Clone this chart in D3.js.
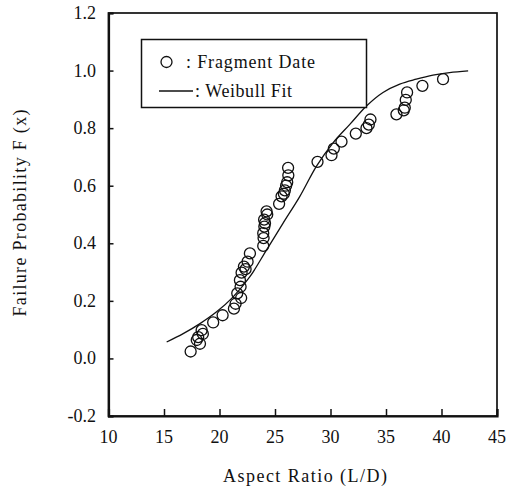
<!DOCTYPE html>
<html>
<head>
<meta charset="utf-8">
<script src="https://cdn.jsdelivr.net/npm/d3@7/dist/d3.min.js"></script>
<style>
  html, body { margin: 0; padding: 0; background: #fff; }
  svg { display: block; }
  text { font-family: "Liberation Serif", "DejaVu Serif", serif; fill: #111; }
</style>
</head>
<body>
<svg id="chart" width="517" height="489"></svg>
<script>
// Fragment data: aspect ratio (L/D) and failure probability F(x)
const fragmentX = [17.4, 18.24, 17.95, 18.08, 18.5, 18.39, 19.43, 20.28, 21.3, 21.45, 21.6, 21.95, 21.9, 21.84, 21.99, 22.2, 22.35, 22.53, 22.74,
  23.94, 23.97, 23.94, 24.04, 24.1, 24.02, 24.3, 24.24, 25.37, 25.59, 25.8, 25.89, 26.0, 26.1, 26.2, 26.18,
  28.83, 30.09, 30.3, 30.99, 32.28, 33.24, 33.45, 33.6, 35.94, 36.6, 36.69, 36.78, 36.9, 38.28, 40.14];
const fragmentY = [0.024, 0.051, 0.064, 0.074, 0.085, 0.098, 0.125, 0.15, 0.173, 0.19, 0.226, 0.21, 0.249, 0.272, 0.298, 0.319, 0.31, 0.336, 0.365,
  0.391, 0.418, 0.435, 0.458, 0.47, 0.482, 0.5, 0.511, 0.537, 0.563, 0.572, 0.584, 0.6, 0.612, 0.636, 0.662,
  0.683, 0.706, 0.729, 0.753, 0.781, 0.80, 0.812, 0.83, 0.848, 0.862, 0.871, 0.898, 0.924, 0.947, 0.97];

// Weibull fit curve
const fitX = [15.24, 16.73, 18.24, 19.74, 21.23, 22.74, 24.24, 25.73, 27.24, 28.74, 30.23, 31.74, 33.24, 34.73, 36.24, 37.73, 39.23, 40.73, 42.4];
const fitY = [0.057, 0.086, 0.121, 0.162, 0.214, 0.284, 0.377, 0.47, 0.563, 0.668, 0.749, 0.813, 0.877, 0.924, 0.953, 0.97, 0.984, 0.993, 0.999];

const xTicks = [10, 15, 20, 25, 30, 35, 40, 45];
const yTicks = [-0.2, 0.0, 0.2, 0.4, 0.6, 0.8, 1.0, 1.2];

const legendLabels = [": Fragment Date", ": Weibull Fit"];
const xTitle = "Aspect Ratio (L/D)";
const yTitle = "Failure Probability F (x)";

const svg = d3.select("#chart");
const pL = 108.5, pR = 497, pT = 13, pB = 416;

const x = d3.scaleLinear().domain([10, 45]).range([pL, pR]);
const y = d3.scaleLinear().domain([-0.2, 1.2]).range([pB, pT]);

// frame
svg.append("rect")
  .attr("x", pL).attr("y", pT)
  .attr("width", pR - pL).attr("height", pB - pT)
  .attr("fill", "none").attr("stroke", "#111").attr("stroke-width", 1.7);

// axes (inward ticks)
const xAxis = svg.append("g").attr("transform", `translate(0,${pB})`)
  .call(d3.axisTop(x).tickValues(xTicks).tickSize(7).tickFormat(""));
const yAxis = svg.append("g").attr("transform", `translate(${pL},0)`)
  .call(d3.axisRight(y).tickValues(yTicks).tickSize(5).tickFormat(""));
[xAxis, yAxis].forEach(g => {
  g.select(".domain").attr("stroke", "#111").attr("stroke-width", 2.2);
  g.selectAll(".tick line").attr("stroke", "#111").attr("stroke-width", 1.5);
});

// tick labels
svg.append("g").selectAll("text").data(xTicks).join("text")
  .attr("x", d => x(d)).attr("y", 443)
  .attr("text-anchor", "middle").attr("font-size", 18)
  .text(d => d);
svg.append("g").selectAll("text").data(yTicks).join("text")
  .attr("x", 96).attr("y", d => y(d) + 6)
  .attr("text-anchor", "end").attr("font-size", 18)
  .text(d => d.toFixed(1));

// titles
svg.append("text").attr("x", 305).attr("y", 482)
  .attr("text-anchor", "middle").attr("font-size", 18)
  .attr("textLength", 164).attr("lengthAdjust", "spacing").text(xTitle);
svg.append("text").attr("transform", "translate(26,213) rotate(-90)")
  .attr("text-anchor", "middle").attr("font-size", 18)
  .attr("textLength", 207).attr("lengthAdjust", "spacing").text(yTitle);

// Weibull fit line
const fitData = fitX.map((d, i) => [d, fitY[i]]);
svg.append("path").datum(fitData)
  .attr("fill", "none").attr("stroke", "#111").attr("stroke-width", 1.3)
  .attr("d", d3.line().x(d => x(d[0])).y(d => y(d[1])).curve(d3.curveCatmullRom));

// data circles
svg.append("g").selectAll("circle").data(fragmentX.map((d, i) => [d, fragmentY[i]])).join("circle")
  .attr("cx", d => x(d[0])).attr("cy", d => y(d[1])).attr("r", 5.5)
  .attr("fill", "none").attr("stroke", "#111").attr("stroke-width", 1.3);

// legend
const lg = svg.append("g");
lg.append("rect").attr("x", 141.5).attr("y", 39.5).attr("width", 225).attr("height", 68)
  .attr("fill", "#fff").attr("stroke", "#111").attr("stroke-width", 1.5);
lg.append("circle").attr("cx", 166.5).attr("cy", 62).attr("r", 5.5)
  .attr("fill", "none").attr("stroke", "#111").attr("stroke-width", 1.3);
lg.append("text").attr("x", 186).attr("y", 68).attr("font-size", 18)
  .attr("textLength", 129).attr("lengthAdjust", "spacing").text(legendLabels[0]);
lg.append("line").attr("x1", 159).attr("x2", 193).attr("y1", 91).attr("y2", 91)
  .attr("stroke", "#111").attr("stroke-width", 1.3);
lg.append("text").attr("x", 195).attr("y", 97).attr("font-size", 18)
  .attr("textLength", 97).attr("lengthAdjust", "spacing").text(legendLabels[1]);
</script>
</body>
</html>
